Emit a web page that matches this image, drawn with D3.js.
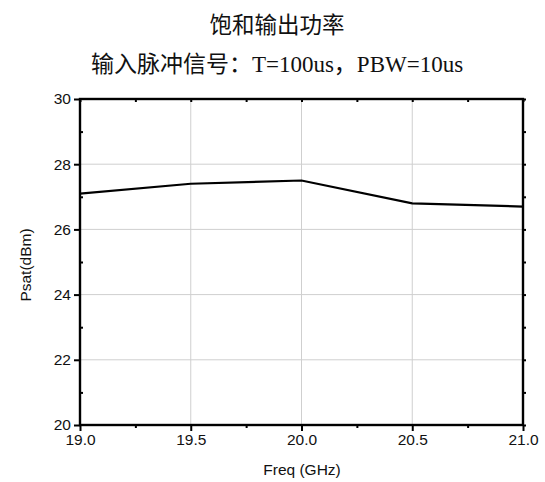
<!DOCTYPE html>
<html><head><meta charset="utf-8">
<script src="https://cdn.jsdelivr.net/npm/d3@7"></script>
<style>body{margin:0;background:#fff}</style>
</head><body>
<svg id="c" width="545" height="482"></svg>
<script>
const freqs = [19.0, 19.5, 20.0, 20.5, 21.0];
const psat = [27.1, 27.4, 27.5, 26.8, 26.7];
const xTicks = [19.0, 19.5, 20.0, 20.5, 21.0];
const yTicks = [20, 22, 24, 26, 28, 30];
const xMinor = [19.25, 19.75, 20.25, 20.75];
const yMinor = [21, 23, 25, 27, 29];
const title1 = "饱和输出功率";
const title2 = "输入脉冲信号：T=100us，PBW=10us";
const xLabel = "Freq (GHz)";
const yLabel = "Psat(dBm)";

const svg = d3.select("#c");
const L = 80, R = 523, T = 99, B = 425;
const x = d3.scaleLinear().domain([19, 21]).range([L, R]);
const y = d3.scaleLinear().domain([20, 30]).range([B, T]);
const serif = "'Liberation Serif','Times New Roman','Noto Sans CJK SC',serif";
const sans = "'Liberation Sans',Arial,sans-serif";

svg.append("text").attr("x", 277).attr("y", 33).attr("text-anchor", "middle")
  .attr("font-family", serif).attr("font-size", 22.5).attr("fill", "#111").text(title1);
svg.append("text").attr("x", 277).attr("y", 72).attr("text-anchor", "middle")
  .attr("font-family", serif).attr("font-size", 23).attr("fill", "#111").text(title2);

// grid
svg.append("g").selectAll("line").data(xTicks.slice(1, -1)).join("line")
  .attr("x1", d => x(d)).attr("x2", d => x(d)).attr("y1", T).attr("y2", B)
  .attr("stroke", "#cfcfcf").attr("stroke-width", 1);
svg.append("g").selectAll("line").data(yTicks.slice(1, -1)).join("line")
  .attr("y1", d => y(d)).attr("y2", d => y(d)).attr("x1", L).attr("x2", R)
  .attr("stroke", "#cfcfcf").attr("stroke-width", 1);

// data line
svg.append("path").datum(freqs.map((f, i) => [f, psat[i]]))
  .attr("d", d3.line().x(d => x(d[0])).y(d => y(d[1])))
  .attr("fill", "none").attr("stroke", "#000").attr("stroke-width", 2.2);

// axes
const styleAxis = g => { g.select(".domain").remove(); g.selectAll("line").attr("stroke", "#000").attr("stroke-width", 2); g.selectAll("text").attr("font-family", sans).attr("font-size", 15.5).attr("fill", "#111"); };
svg.append("g").attr("transform", `translate(0,${B})`)
  .call(d3.axisBottom(x).tickValues(xTicks).tickFormat(d3.format(".1f")).tickSize(6).tickPadding(3)).call(styleAxis);
svg.append("g").attr("transform", `translate(0,${B})`)
  .call(d3.axisBottom(x).tickValues(xMinor).tickFormat("").tickSize(3)).call(styleAxis);
svg.append("g").attr("transform", `translate(${L},0)`)
  .call(d3.axisLeft(y).tickValues(yTicks).tickSize(6).tickPadding(3)).call(styleAxis);
svg.append("g").attr("transform", `translate(${L},0)`)
  .call(d3.axisRight(y).tickValues(yMinor).tickFormat("").tickSize(3)).call(styleAxis);
svg.append("g").attr("transform", `translate(${R},0)`)
  .call(d3.axisRight(y).tickValues(yMinor.concat(yTicks)).tickFormat("").tickSize(3)).call(styleAxis);
svg.append("g").attr("transform", `translate(0,${T})`)
  .call(d3.axisBottom(x).tickValues(xMinor.concat(xTicks)).tickFormat("").tickSize(3)).call(styleAxis);

svg.append("rect").attr("x", L).attr("y", T).attr("width", R - L).attr("height", B - T)
  .attr("fill", "none").attr("stroke", "#000").attr("stroke-width", 2.4);

svg.append("text").attr("x", 302).attr("y", 475).attr("text-anchor", "middle")
  .attr("font-family", sans).attr("font-size", 15.5).attr("fill", "#111").text(xLabel);
svg.append("text").attr("transform", `translate(31,${265}) rotate(-90)`).attr("text-anchor", "middle")
  .attr("font-family", sans).attr("font-size", 15.5).attr("fill", "#111").text(yLabel);
</script>
</body></html>
